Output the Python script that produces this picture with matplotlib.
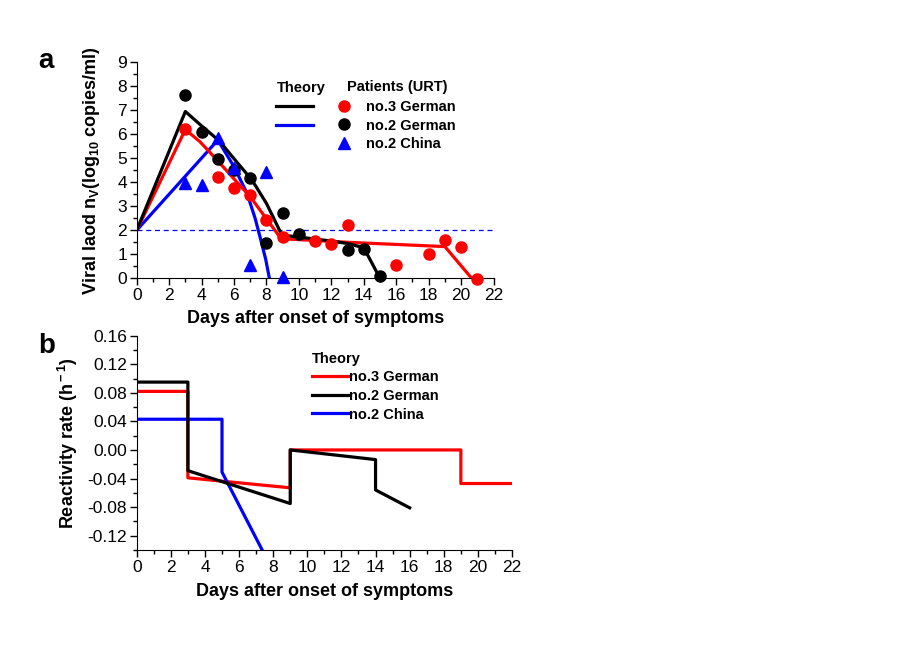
import matplotlib
matplotlib.use("Agg")
import matplotlib.pyplot as plt
from matplotlib.lines import Line2D
from matplotlib.ticker import MultipleLocator, FormatStrFormatter

plt.rcParams['font.family'] = ['Liberation Sans', 'DejaVu Sans']
plt.rcParams['mathtext.fontset'] = 'custom'
plt.rcParams['mathtext.rm'] = 'Liberation Sans:bold'
plt.rcParams['mathtext.bf'] = 'Liberation Sans:bold'
plt.rcParams['mathtext.it'] = 'Liberation Sans:bold'
plt.rcParams['axes.unicode_minus'] = False

# ---- panel a: patient data (URT) ----
red_x = [3, 5, 6, 7, 8, 9, 11, 12, 13, 16, 18, 19, 20, 21]
red_y = [6.2, 4.2, 3.75, 3.45, 2.43, 1.73, 1.57, 1.43, 2.22, 0.54, 1.0, 1.6, 1.29, -0.04]
black_x = [3, 4, 5, 6, 7, 8, 9, 10, 13, 14, 15]
black_y = [7.63, 6.1, 4.96, 4.51, 4.18, 1.45, 2.71, 1.85, 1.18, 1.2, 0.08]
blue_x = [3, 4, 5, 6, 7, 8, 9]
blue_y = [3.99, 3.89, 5.83, 4.58, 0.56, 4.44, 0.07]

# ---- panel a: theory curves ----
th_black_x = [0, 3, 4, 5.1, 6.1, 7.1, 8.0, 8.95, 10, 12, 13, 14, 15]
th_black_y = [2.0, 6.95, 6.35, 5.72, 4.9, 4.1, 3.12, 1.8, 1.72, 1.55, 1.45, 1.27, 0.0]
th_red_x = [0, 3, 3.9, 4.95, 5.96, 7.0, 7.9, 8.9, 13, 19, 20.65]
th_red_y = [2.0, 6.2, 5.69, 4.93, 4.17, 3.4, 2.57, 1.65, 1.5, 1.32, 0.0]
th_blue_x = [0, 5, 6, 6.8, 7.3, 7.65, 7.95, 8.18]
th_blue_y = [2.0, 5.76, 4.65, 3.54, 2.5, 1.6, 0.8, 0.0]
threshold = 2.0

# ---- panel b: reactivity rate ----
rr_red_x = [0, 3, 3, 9, 9, 19, 19, 22]
rr_red_y = [0.082, 0.082, -0.039, -0.053, 0.0, 0.0, -0.047, -0.047]
rr_black_x = [0, 3, 3, 9, 9, 14, 14, 16]
rr_black_y = [0.095, 0.095, -0.029, -0.075, 0.0, -0.0135, -0.056, -0.081]
rr_blue_x = [0, 5, 5, 8]
rr_blue_y = [0.043, 0.043, -0.031, -0.17]

patients = ['no.3 German', 'no.2 German', 'no.2 China']

fig = plt.figure(figsize=(9.15, 6.47), dpi=100)
ax1 = fig.add_axes([0.1494, 0.5699, 0.39, 0.3338])
ax2 = fig.add_axes([0.1494, 0.150, 0.4102, 0.3312])

lw = 2.3
ax1.axhline(threshold, color='blue', lw=0.9, ls=(0, (4, 3)))
ax1.plot(th_blue_x, th_blue_y, color='blue', lw=lw, zorder=3)
ax1.plot(th_red_x, th_red_y, color='red', lw=lw, zorder=3)
ax1.plot(th_black_x, th_black_y, color='black', lw=lw, zorder=3)
ax1.plot(black_x, black_y, 'o', color='black', ms=8, zorder=4, clip_on=False)
ax1.plot(red_x, red_y, 'o', color='red', ms=8, zorder=4, clip_on=False)
ax1.plot(blue_x, blue_y, '^', color='blue', ms=9, zorder=4, clip_on=False)

ax1.set_xlim(0, 22)
ax1.set_ylim(0, 9)
ax1.xaxis.set_major_locator(MultipleLocator(2))
ax1.xaxis.set_minor_locator(MultipleLocator(1))
ax1.yaxis.set_major_locator(MultipleLocator(1))
ax1.yaxis.set_minor_locator(MultipleLocator(0.5))
ax1.set_xlabel('Days after onset of symptoms', fontsize=13, fontweight='bold', labelpad=5)
ax1.set_ylabel(r'Viral laod n$_{\rm V}$(log$_{\rm 10}$ copies/ml)', fontsize=13,
               fontweight='bold', labelpad=11)

leg1 = ax1.legend([Line2D([], [], color='black', lw=lw), Line2D([], [], color='blue', lw=lw)],
                  ['', ''], title='Theory', loc='upper left', bbox_to_anchor=(0.371, 0.945),
                  frameon=False, handlelength=2.5, handletextpad=0, borderpad=0,
                  labelspacing=0.32, fontsize=10.5,
                  title_fontproperties={'weight': 'bold', 'size': 10.5}, alignment='left')
ax1.add_artist(leg1)
ax1.text(0.589, 0.885, 'Patients (URT)', transform=ax1.transAxes, fontsize=10.5,
         fontweight='bold', ha='left', va='center')
ax1.legend([Line2D([], [], ls='', marker='o', color='red', ms=8),
            Line2D([], [], ls='', marker='o', color='black', ms=8),
            Line2D([], [], ls='', marker='^', color='blue', ms=9)],
           patients, loc='upper left', bbox_to_anchor=(0.54, 0.86), frameon=False,
           handlelength=1.0, handletextpad=1.0, borderpad=0, labelspacing=0.32,
           prop={'weight': 'bold', 'size': 10.5})

ax2.plot(rr_red_x, rr_red_y, color='red', lw=lw)
ax2.plot(rr_blue_x, rr_blue_y, color='blue', lw=lw)
ax2.plot(rr_black_x, rr_black_y, color='black', lw=lw)
ax2.set_xlim(0, 22)
ax2.set_ylim(-0.14, 0.16)
ax2.xaxis.set_major_locator(MultipleLocator(2))
ax2.xaxis.set_minor_locator(MultipleLocator(1))
ax2.set_yticks([-0.12, -0.08, -0.04, 0.0, 0.04, 0.08, 0.12, 0.16])
ax2.yaxis.set_minor_locator(MultipleLocator(0.02))
ax2.yaxis.set_major_formatter(FormatStrFormatter('%.2f'))
ax2.set_xlabel('Days after onset of symptoms', fontsize=13, fontweight='bold', labelpad=6)
ax2.set_ylabel(r'Reactivity rate (h$^{\rm -1}$)', fontsize=13, fontweight='bold', labelpad=5)
ax2.legend([Line2D([], [], color='red', lw=lw), Line2D([], [], color='black', lw=lw),
            Line2D([], [], color='blue', lw=lw)],
           patients, title='Theory',
           loc='upper left', bbox_to_anchor=(0.447, 0.96), frameon=False,
           handlelength=2.5, handletextpad=0.05, borderpad=0, labelspacing=0.32,
           prop={'weight': 'bold', 'size': 10.5},
           title_fontproperties={'weight': 'bold', 'size': 10.5}, alignment='left')

for ax in (ax1, ax2):
    ax.spines['top'].set_visible(False)
    ax.spines['right'].set_visible(False)
    ax.tick_params(which='major', direction='out', length=5, width=1, labelsize=12.5, pad=2)
    ax.tick_params(which='minor', direction='out', length=3, width=1)

fig.text(0.042, 0.905, 'a', fontsize=20, fontweight='bold', ha='left', va='center')
fig.text(0.042, 0.465, 'b', fontsize=20, fontweight='bold', ha='left', va='center')

fig.savefig('out.png', dpi=100)
